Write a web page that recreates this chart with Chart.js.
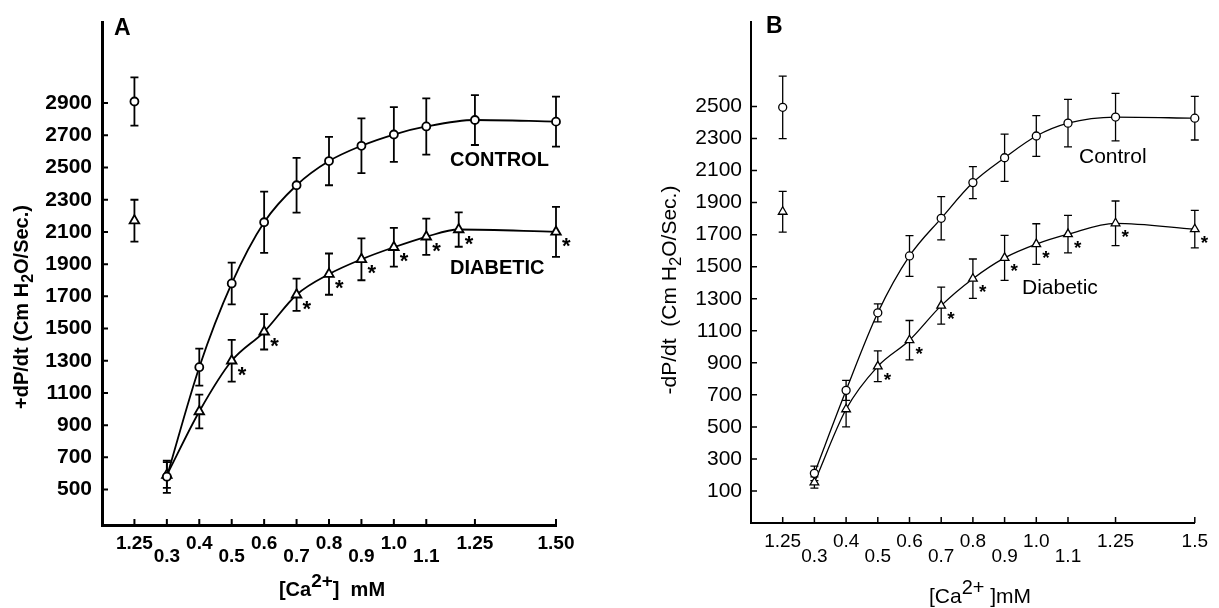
<!DOCTYPE html>
<html>
<head>
<meta charset="utf-8">
<script src="https://cdn.jsdelivr.net/npm/chart.js@4.4.0/dist/chart.umd.min.js"></script>
<style>
  html, body { margin: 0; padding: 0; background: #fff; }
  #wrapA { position: absolute; left: 0; top: 0; width: 600px; height: 608px; }
  #wrapB { position: absolute; left: 600px; top: 0; width: 619px; height: 608px; }
</style>
</head>
<body>
<div id="wrapA"><canvas id="chartA"></canvas></div>
<div id="wrapB"><canvas id="chartB"></canvas></div>
<script>
// x positions in mM; the 0.2 slot carries the 1.25 mM baseline
const xTicks = [0.2, 0.3, 0.4, 0.5, 0.6, 0.7, 0.8, 0.9, 1.0, 1.1, 1.25, 1.5];
const xLabelsA = ['1.25', '0.3', '0.4', '0.5', '0.6', '0.7', '0.8', '0.9', '1.0', '1.1', '1.25', '1.50'];
const xLabelsB = ['1.25', '0.3', '0.4', '0.5', '0.6', '0.7', '0.8', '0.9', '1.0', '1.1', '1.25', '1.5'];
const xLowRow = [0, 1, 0, 1, 0, 1, 0, 1, 0, 1, 0, 0];

const yTicksA = [500, 700, 900, 1100, 1300, 1500, 1700, 1900, 2100, 2300, 2500, 2700, 2900];
const yTicksB = [100, 300, 500, 700, 900, 1100, 1300, 1500, 1700, 1900, 2100, 2300, 2500];

const baseX = [0.2];

// panel A: +dP/dt
const ctrlAX = [0.3, 0.4, 0.5, 0.6, 0.7, 0.8, 0.9, 1.0, 1.1, 1.25, 1.5];
const ctrlA = [580, 1260, 1780, 2160, 2390, 2540, 2635, 2705, 2755, 2795, 2785];
const ctrlAErr = [100, 115, 130, 190, 170, 150, 170, 170, 175, 155, 155];
const diabAX = [0.3, 0.4, 0.5, 0.6, 0.7, 0.8, 0.9, 1.0, 1.1, 1.2, 1.5];
const diabA = [590, 985, 1300, 1480, 1710, 1838, 1930, 2005, 2070, 2115, 2100];
const diabAErr = [80, 105, 130, 110, 100, 128, 130, 120, 113, 107, 155];
const diabAStar = [0, 0, 1, 1, 1, 1, 1, 1, 1, 1, 1];
const baseCtrlA = [2910], baseCtrlAErr = [150];
const baseDiabA = [2170], baseDiabAErr = [130];

// panel B: -dP/dt
const ctrlBX = [0.3, 0.4, 0.5, 0.6, 0.7, 0.8, 0.9, 1.0, 1.1, 1.25, 1.5];
const ctrlB = [210, 728, 1212, 1567, 1802, 2025, 2180, 2316, 2396, 2434, 2427];
const ctrlBErr = [45, 62, 56, 127, 135, 100, 148, 127, 148, 148, 136];
const diabBX = [0.3, 0.4, 0.5, 0.6, 0.7, 0.8, 0.9, 1.0, 1.1, 1.25, 1.5];
const diabB = [153, 610, 878, 1041, 1257, 1425, 1555, 1641, 1703, 1771, 1734];
const diabBErr = [35, 110, 96, 123, 115, 123, 140, 127, 117, 139, 117];
const diabBStar = [0, 0, 1, 1, 1, 1, 1, 1, 1, 1, 1];
const baseCtrlB = [2495], baseCtrlBErr = [195];
const baseDiabB = [1843], baseDiabBErr = [127];

const FAMILY = '"Liberation Sans", Arial, Helvetica, sans-serif';

function series(xs, ys, errs, stars, style, radius, showLine, lw) {
  return {
    data: xs.map((x, i) => ({ x: x, y: ys[i] })),
    errors: errs,
    stars: stars,
    showLine: showLine,
    borderColor: '#000',
    borderWidth: lw,
    pointStyle: style,
    pointRadius: radius,
    pointBackgroundColor: '#fff',
    pointBorderColor: '#000',
    pointBorderWidth: lw,
    cubicInterpolationMode: 'monotone',
    fill: false,
    clip: false
  };
}

function font(o, size) {
  return (o.bold ? 'bold ' : '') + size + 'px ' + FAMILY;
}

// text with sub/superscript pieces, centred on (0,0)
function drawRich(ctx, parts, o, size) {
  const sized = parts.map(p => {
    const s = p.sub || p.sup ? size * p.scale : size;
    ctx.font = font(o, s);
    return { t: p.t, s: s, w: ctx.measureText(p.t).width, dy: p.sub ? size * 0.32 : p.sup ? -size * 0.42 : 0 };
  });
  const total = sized.reduce((a, p) => a + p.w, 0);
  let x = -total / 2;
  ctx.textAlign = 'left';
  ctx.textBaseline = 'middle';
  sized.forEach(p => {
    ctx.font = font(o, p.s);
    ctx.fillText(p.t, x, p.dy);
    x += p.w;
  });
}

const panelDecor = {
  id: 'panelDecor',
  beforeDatasetsDraw(chart, args, o) {
    const { ctx } = chart;
    const xs = chart.scales.x, ys = chart.scales.y;
    ctx.save();
    ctx.strokeStyle = '#000';
    ctx.lineWidth = o.lw;
    chart.data.datasets.forEach(ds => {
      ds.data.forEach((p, i) => {
        const e = ds.errors[i];
        const px = xs.getPixelForValue(p.x);
        const top = ys.getPixelForValue(p.y + e);
        const bot = ys.getPixelForValue(p.y - e);
        ctx.beginPath();
        ctx.moveTo(px, top); ctx.lineTo(px, bot);
        ctx.moveTo(px - o.cap, top); ctx.lineTo(px + o.cap, top);
        ctx.moveTo(px - o.cap, bot); ctx.lineTo(px + o.cap, bot);
        ctx.stroke();
      });
    });
    ctx.restore();
  },
  afterDraw(chart, args, o) {
    const { ctx, chartArea: a } = chart;
    const xs = chart.scales.x, ys = chart.scales.y;
    ctx.save();
    ctx.fillStyle = '#000';
    ctx.strokeStyle = '#000';

    // inward tick marks
    ctx.lineWidth = o.tickWidth;
    ctx.beginPath();
    xs.ticks.forEach(t => {
      const px = xs.getPixelForValue(t.value);
      ctx.moveTo(px, a.bottom); ctx.lineTo(px, a.bottom - o.tickLen);
    });
    ys.ticks.forEach(t => {
      const py = ys.getPixelForValue(t.value);
      ctx.moveTo(a.left, py); ctx.lineTo(a.left + o.tickLen, py);
    });
    ctx.stroke();

    // significance asterisks
    ctx.font = 'bold ' + o.starSize + 'px ' + FAMILY;
    ctx.textAlign = 'left';
    ctx.textBaseline = 'alphabetic';
    chart.data.datasets.forEach(ds => {
      if (!ds.stars) return;
      ds.data.forEach((p, i) => {
        if (!ds.stars[i]) return;
        const px = xs.getPixelForValue(p.x), py = ys.getPixelForValue(p.y);
        ctx.fillText('*', px + 6, py + 9 + o.starSize * 0.55);
      });
    });

    // panel letter and series names
    ctx.textBaseline = 'middle';
    ctx.font = 'bold 23px ' + FAMILY;
    ctx.fillText(o.letter, o.letterPos[0], o.letterPos[1]);
    ctx.font = font(o, o.labelSize);
    o.labels.forEach(l => ctx.fillText(l.t, l.x, l.y));

    // axis titles
    ctx.save();
    ctx.translate(o.yTitlePos[0], o.yTitlePos[1]);
    ctx.rotate(-Math.PI / 2);
    drawRich(ctx, o.yTitle, o, o.titleSize);
    ctx.restore();
    ctx.save();
    ctx.translate(o.xTitlePos[0], o.xTitlePos[1]);
    drawRich(ctx, o.xTitle, o, o.titleSize);
    ctx.restore();

    ctx.restore();
  }
};

function buildPanel(canvasId, p) {
  const ctx = document.getElementById(canvasId).getContext('2d');
  const lw = p.deco.lw;
  return new Chart(ctx, {
    type: 'line',
    data: {
      datasets: [
        series(p.ctrlX, p.ctrl, p.ctrlErr, null, 'circle', 4, true, lw),
        series(p.diabX, p.diab, p.diabErr, p.diabStar, 'triangle', p.triRadius, true, lw),
        series(baseX, p.baseCtrl, p.baseCtrlErr, null, 'circle', 4, false, lw),
        series(baseX, p.baseDiab, p.baseDiabErr, null, 'triangle', p.triRadius, false, lw)
      ]
    },
    options: {
      responsive: true,
      maintainAspectRatio: false,
      animation: false,
      events: [],
      layout: { padding: { top: 17, right: p.padRight, left: 0, bottom: 0 } },
      plugins: {
        legend: { display: false },
        tooltip: { enabled: false },
        panelDecor: p.deco
      },
      scales: {
        x: {
          type: 'linear',
          min: 0.1,
          max: 1.5,
          afterBuildTicks: s => { s.ticks = xTicks.map(v => ({ value: v })); },
          afterFit: s => { s.height = p.xHeight; },
          grid: { display: false, drawTicks: false },
          border: { color: '#000', width: p.axisWidth },
          ticks: {
            autoSkip: false,
            maxRotation: 0,
            minRotation: 0,
            padding: p.xPad,
            color: '#000',
            font: { family: FAMILY, size: p.xTickSize, weight: p.deco.bold ? 'bold' : 'normal', lineHeight: p.xLine },
            callback: (v, i) => xLowRow[i] ? ['', p.xLabels[i]] : p.xLabels[i]
          }
        },
        y: {
          min: p.yMin,
          max: p.yMax,
          afterBuildTicks: s => { s.ticks = p.yTicks.map(v => ({ value: v })); },
          afterFit: s => { s.width = p.yWidth; },
          grid: { display: false, drawTicks: false },
          border: { color: '#000', width: p.axisWidth },
          ticks: {
            padding: p.yPad,
            color: '#000',
            font: { family: FAMILY, size: p.yTickSize, weight: p.deco.bold ? 'bold' : 'normal' },
            callback: v => String(v)
          }
        }
      }
    },
    plugins: [panelDecor]
  });
}

buildPanel('chartA', {
  ctrlX: ctrlAX, ctrl: ctrlA, ctrlErr: ctrlAErr,
  diabX: diabAX, diab: diabA, diabErr: diabAErr, diabStar: diabAStar,
  baseCtrl: baseCtrlA, baseCtrlErr: baseCtrlAErr, baseDiab: baseDiabA, baseDiabErr: baseDiabAErr,
  xLabels: xLabelsA, yTicks: yTicksA, yMin: 280, yMax: 3400, triRadius: 5.5,
  yWidth: 102, xHeight: 83, padRight: 44, axisWidth: 3,
  xPad: 12, xLine: 0.7, xTickSize: 19, yPad: 10, yTickSize: 21,
  deco: {
    bold: true, lw: 1.8, cap: 4, tickLen: 6, tickWidth: 2, starSize: 22,
    letter: 'A', letterPos: [114, 29], labelSize: 20,
    labels: [{ t: 'CONTROL', x: 450, y: 160 }, { t: 'DIABETIC', x: 450, y: 268 }],
    titleSize: 20,
    yTitle: [{ t: '+dP/dt (Cm H' }, { t: '2', sub: true, scale: 0.8 }, { t: 'O/Sec.)' }],
    yTitlePos: [22, 307],
    xTitle: [{ t: '[Ca' }, { t: '2+', sup: true, scale: 0.95 }, { t: ']  mM' }],
    xTitlePos: [332, 590]
  }
});

buildPanel('chartB', {
  ctrlX: ctrlBX, ctrl: ctrlB, ctrlErr: ctrlBErr,
  diabX: diabBX, diab: diabB, diabErr: diabBErr, diabStar: diabBStar,
  baseCtrl: baseCtrlB, baseCtrlErr: baseCtrlBErr, baseDiab: baseDiabB, baseDiabErr: baseDiabBErr,
  xLabels: xLabelsB, yTicks: yTicksB, yMin: -100, yMax: 3030, triRadius: 5,
  yWidth: 151, xHeight: 85, padRight: 16, axisWidth: 2,
  xPad: 11, xLine: 0.79, xTickSize: 19, yPad: 9, yTickSize: 21,
  deco: {
    bold: false, lw: 1.3, cap: 4, tickLen: 6, tickWidth: 1.5, starSize: 19,
    letter: 'B', letterPos: [166, 27], labelSize: 21,
    labels: [{ t: 'Control', x: 479, y: 157 }, { t: 'Diabetic', x: 422, y: 288 }],
    titleSize: 21,
    yTitle: [{ t: '-dP/dt  (Cm H' }, { t: '2', sub: true, scale: 0.8 }, { t: 'O/Sec.)' }],
    yTitlePos: [70, 290],
    xTitle: [{ t: '[Ca' }, { t: '2+', sup: true, scale: 0.95 }, { t: ' ]mM' }],
    xTitlePos: [380, 597]
  }
});
</script>
</body>
</html>
